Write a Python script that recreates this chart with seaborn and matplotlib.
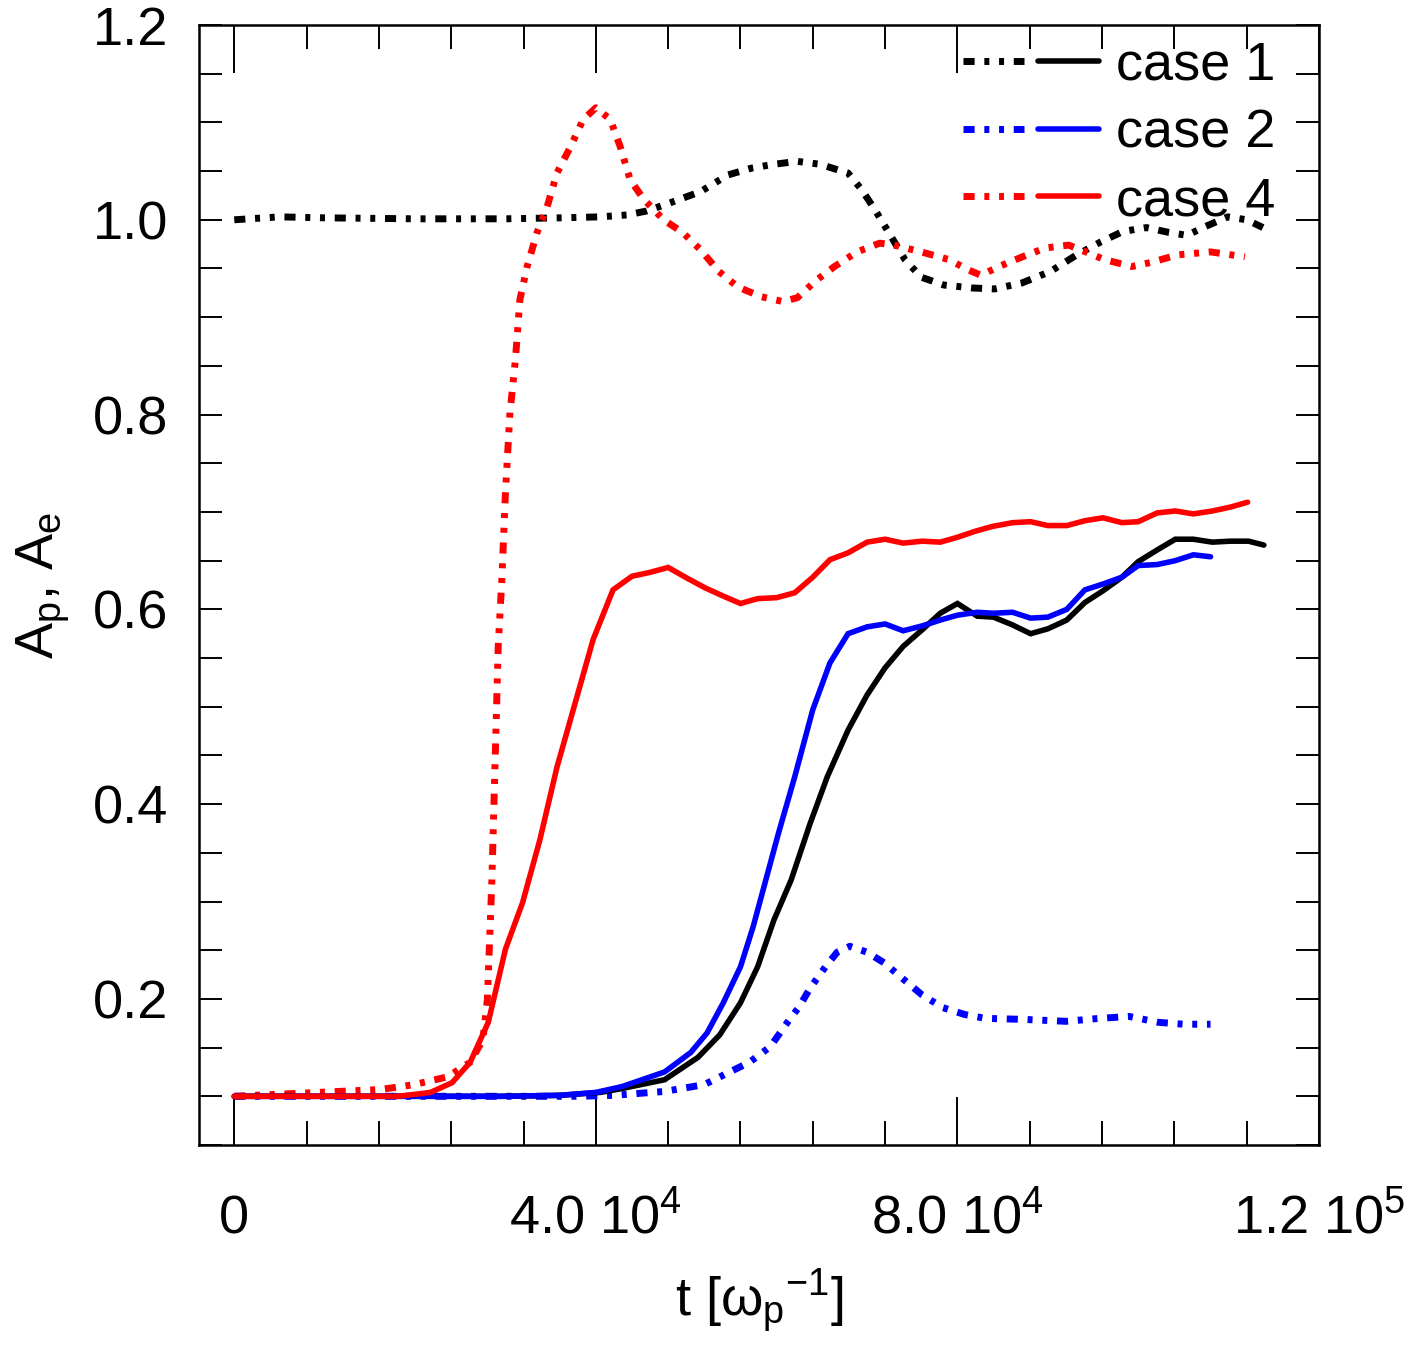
import numpy as np
import pandas as pd
import matplotlib
matplotlib.use("Agg")
import matplotlib.pyplot as plt
import seaborn as sns
from matplotlib.lines import Line2D
from matplotlib.legend_handler import HandlerTuple
from matplotlib.ticker import FixedLocator, MultipleLocator

# ---------------- data (t in units of 1e3 / omega_p) ----------------
t_case1_solid = [0, 18.4, 29.4, 36.1, 40.5, 42.9, 47.6, 51.3, 53.7, 56.0, 57.9, 59.7, 61.6, 63.7, 65.6,
                 67.9, 70.0, 72.0, 74.0, 76.1, 78.1, 80.0, 82.2, 84.0, 86.1, 88.1, 90.0, 92.1, 94.1,
                 96.1, 98.2, 100.0, 102.1, 104.1, 106.1, 108.2, 110.2, 112.2, 113.9]
a_case1_solid = [0.1, 0.1, 0.1, 0.101, 0.104, 0.108, 0.117, 0.14, 0.163, 0.196, 0.233, 0.281, 0.322, 0.38,
                 0.428, 0.476, 0.512, 0.54, 0.562, 0.579, 0.596, 0.606, 0.593, 0.592, 0.584, 0.575, 0.58,
                 0.589, 0.607, 0.619, 0.633, 0.649, 0.661, 0.672, 0.672, 0.669, 0.67, 0.67, 0.666]

t_case2_solid = [0, 30, 36, 40, 42.9, 47.6, 50.5, 52.3, 54.1, 56.0, 57.4, 58.8, 60.2, 62.0, 64.0, 65.9,
                 67.9, 70.0, 72.0, 74.0, 76.1, 78.1, 80.0, 82.2, 84.0, 86.1, 88.1, 90.0, 92.1, 94.1, 96.1,
                 98.2, 100.0, 102.1, 104.1, 106.1, 108.0]
a_case2_solid = [0.1, 0.1, 0.101, 0.104, 0.11, 0.125, 0.145, 0.165, 0.196, 0.233, 0.274, 0.322, 0.37,
                 0.428, 0.497, 0.545, 0.575, 0.582, 0.585, 0.578, 0.583, 0.589, 0.594, 0.597, 0.596,
                 0.597, 0.591, 0.592, 0.6, 0.62, 0.626, 0.633, 0.645, 0.646, 0.65, 0.656, 0.654]

t_case4_solid = [0, 18, 20, 21.7, 24.1, 26.1, 28.1, 30.0, 31.9, 33.8, 35.7, 37.9, 39.7, 41.9, 44.0, 46.0,
                 48.0, 50.1, 52.1, 54.0, 56.0, 57.9, 60.0, 62.0, 64.0, 65.9, 67.9, 70.0, 72.0, 74.0, 76.1,
                 78.1, 80.0, 81.9, 83.8, 86.1, 88.1, 90.0, 92.1, 94.1, 96.1, 98.2, 100.0, 102.1, 104.1,
                 106.1, 108.2, 110.2, 112.1]
a_case4_solid = [0.1, 0.1, 0.102, 0.104, 0.114, 0.135, 0.176, 0.251, 0.299, 0.363, 0.438, 0.51, 0.569,
                 0.62, 0.634, 0.638, 0.643, 0.632, 0.622, 0.614, 0.606, 0.611, 0.612, 0.617, 0.633, 0.651,
                 0.658, 0.669, 0.672, 0.668, 0.67, 0.669, 0.674, 0.68, 0.685, 0.689, 0.69, 0.686, 0.686,
                 0.691, 0.694, 0.689, 0.69, 0.699, 0.701, 0.698, 0.701, 0.705, 0.71]

t_case1_dot = [0, 5, 10, 20, 30, 36, 40.5, 43.5, 45.6, 48.1, 51.6, 54.6, 57.2, 59.7, 62.3, 64.8, 67.9,
               69.4, 70.9, 72.4, 74.2, 76.0, 78.5, 81.6, 84.1, 87.1, 90.3, 93.2, 95.8, 98.3, 100.9, 103.4,
               105.4, 107.4, 109.9, 112.0, 113.8]
a_case1_dot = [1.0, 1.003, 1.002, 1.001, 1.001, 1.002, 1.003, 1.005, 1.009, 1.017, 1.029, 1.046, 1.053,
               1.057, 1.06, 1.057, 1.048, 1.031, 1.01, 0.987, 0.959, 0.941, 0.933, 0.93, 0.929, 0.935,
               0.947, 0.964, 0.977, 0.988, 0.992, 0.987, 0.984, 0.993, 1.003, 1.0, 0.992]

t_case2_dot = [0, 38, 42, 47.6, 52.0, 54.6, 57.0, 59.3, 61.2, 62.5, 63.7, 65.4, 66.7, 68.1, 70.0, 71.9,
               73.8, 76.1, 78.4, 80.8, 83.1, 87.3, 92.0, 95.7, 99.0, 102.2, 105.0, 108.0]
a_case2_dot = [0.1, 0.1, 0.101, 0.105, 0.112, 0.124, 0.135, 0.151, 0.176, 0.192, 0.211, 0.233, 0.248,
               0.254, 0.248, 0.237, 0.222, 0.204, 0.191, 0.184, 0.18, 0.179, 0.177, 0.18, 0.182, 0.176,
               0.174, 0.174]

t_case4_dot = [0, 16.2, 19.9, 23.6, 26.1, 27.5, 28.0, 28.5, 28.9, 29.2, 29.6, 30.0, 30.5, 31.1, 31.6,
               32.4, 33.5, 34.6, 35.7, 37.2, 38.6, 40.0, 41.6, 42.7, 43.8, 45.3, 47.5, 49.6, 51.6, 53.6,
               55.7, 58.3, 60.7, 62.3, 64.4, 66.4, 68.9, 71.4, 73.0, 76.0, 79.1, 81.1, 82.6, 84.6, 87.2,
               89.7, 92.3, 94.2, 96.3, 99.3, 101.3, 104.4, 108.0, 111.8]
a_case4_dot = [0.1, 0.107, 0.112, 0.12, 0.135, 0.158, 0.199, 0.322, 0.459, 0.562, 0.63, 0.72, 0.802,
               0.856, 0.918, 0.952, 0.987, 1.013, 1.048, 1.075, 1.103, 1.115, 1.103, 1.075, 1.041, 1.021,
               1.0, 0.987, 0.969, 0.947, 0.931, 0.921, 0.916, 0.92, 0.938, 0.952, 0.967, 0.976, 0.974,
               0.967, 0.959, 0.949, 0.943, 0.952, 0.962, 0.971, 0.974, 0.967, 0.959, 0.952, 0.956, 0.964,
               0.967, 0.962]

case_labels = ["case 1", "case 2", "case 4"]
case_colors = ["black", "blue", "red"]
x_tick_vals = [0, 40000, 80000, 120000]
x_tick_labels = ["0", "4.0 10$^{4}$", "8.0 10$^{4}$", "1.2 10$^{5}$"]
y_tick_vals = [0.2, 0.4, 0.6, 0.8, 1.0, 1.2]
y_tick_labels = ["0.2", "0.4", "0.6", "0.8", "1.0", "1.2"]

# ---------------- style ----------------
sns.set_theme(style="white")
plt.rcParams["font.family"] = ["Liberation Sans", "DejaVu Sans"]
plt.rcParams["mathtext.fontset"] = "custom"
plt.rcParams["mathtext.rm"] = "Liberation Sans"
plt.rcParams["mathtext.it"] = "Liberation Sans:italic"
plt.rcParams["mathtext.default"] = "regular"
plt.rcParams["lines.scale_dashes"] = False
plt.rcParams["axes.unicode_minus"] = False
plt.rcParams["text.color"] = "black"
plt.rcParams["axes.labelcolor"] = "black"
plt.rcParams["xtick.color"] = "black"
plt.rcParams["ytick.color"] = "black"

FS = 39
DOT_LS = (0, (8, 7, 3.6, 7, 3.6, 7))
LW_SOLID = 4.0
LW_DOT = 5.0

fig = plt.figure(figsize=(14.19, 13.61), dpi=100)
ax = fig.add_axes([199 / 1419, 1 - 1145 / 1361, 1120 / 1419, 1120 / 1361])

solids = [(t_case1_solid, a_case1_solid), (t_case2_solid, a_case2_solid), (t_case4_solid, a_case4_solid)]
dots = [(t_case1_dot, a_case1_dot), (t_case2_dot, a_case2_dot), (t_case4_dot, a_case4_dot)]

for (t, a), col in zip(dots, case_colors):
    df = pd.DataFrame({"t": np.array(t) * 1e3, "A": a})
    sns.lineplot(data=df, x="t", y="A", ax=ax, color=col, linewidth=LW_DOT,
                 linestyle=DOT_LS, sort=False, estimator=None, errorbar=None,
                 dash_capstyle="butt")
for (t, a), col in zip(solids, case_colors):
    df = pd.DataFrame({"t": np.array(t) * 1e3, "A": a})
    sns.lineplot(data=df, x="t", y="A", ax=ax, color=col, linewidth=LW_SOLID,
                 sort=False, estimator=None, errorbar=None, solid_joinstyle="miter")

ax.set_xlim(-3900, 120000)
ax.set_ylim(0.05, 1.2)

ax.xaxis.set_major_locator(FixedLocator(x_tick_vals))
ax.set_xticklabels(x_tick_labels)
ax.xaxis.set_minor_locator(MultipleLocator(8000))
ax.yaxis.set_major_locator(FixedLocator(y_tick_vals))
ax.set_yticklabels(y_tick_labels)
ax.yaxis.set_minor_locator(MultipleLocator(0.05))

ax.tick_params(axis="x", which="major", direction="in", length=34.5, width=1.4,
               top=True, bottom=True, labelsize=FS, pad=64, colors="black")
ax.tick_params(axis="x", which="minor", direction="in", length=17.3, width=1.4,
               top=True, bottom=True)
ax.tick_params(axis="y", which="both", direction="in", length=16.6, width=1.4,
               left=True, right=True, labelsize=FS, pad=22, colors="black")
for lbl in ax.get_xticklabels():
    lbl.set_verticalalignment("baseline")

for sp in ax.spines.values():
    sp.set_linewidth(1.8)
    sp.set_color("black")

ax.set_xlabel("t [ω$_{p}$$^{-1}$]", fontsize=FS, labelpad=16, color="black")
ax.set_ylabel("A$_{p}$, A$_{e}$", fontsize=FS, labelpad=15, color="black")

handles = []
for col in case_colors:
    h_dot = Line2D([], [], color=col, linewidth=LW_DOT, linestyle=DOT_LS, dash_capstyle="butt")
    h_sol = Line2D([], [], color=col, linewidth=LW_SOLID)
    handles.append((h_dot, h_sol))
leg = ax.legend(handles, case_labels, handler_map={tuple: HandlerTuple(ndivide=None, pad=0.27)},
                loc="upper left", bbox_to_anchor=(0.682, 0.986), frameon=False, fontsize=FS,
                handlelength=2.52, handletextpad=0.3, labelspacing=0.33, borderpad=0,
                borderaxespad=0, labelcolor="black")

fig.savefig("out.png", dpi=100)
